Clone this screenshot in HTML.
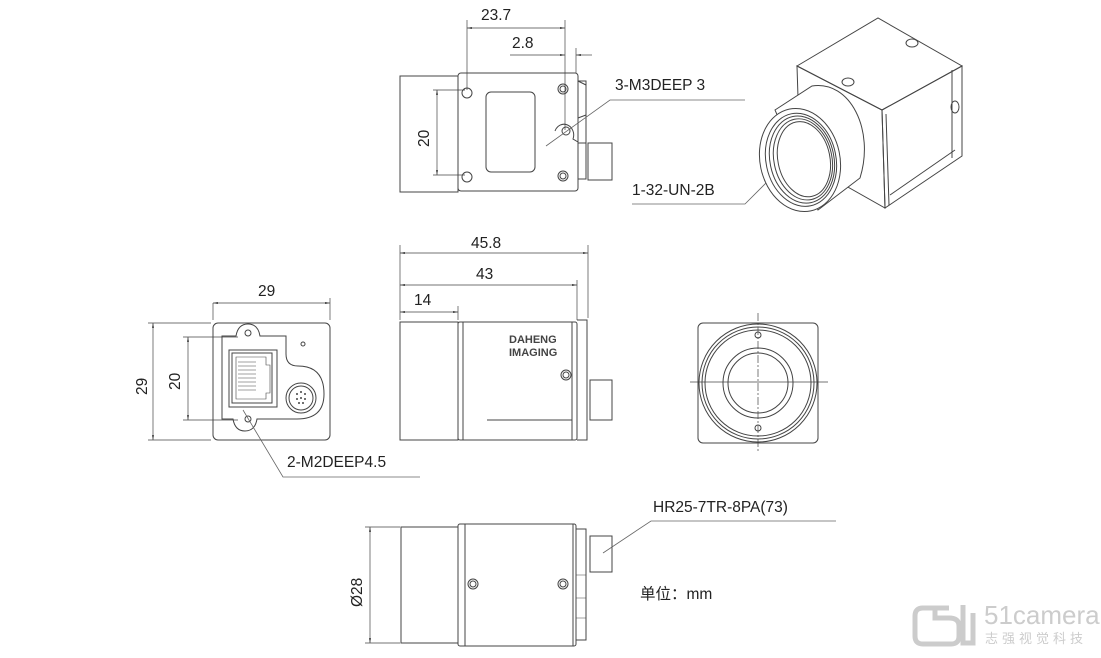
<!DOCTYPE html>
<html><head><meta charset="utf-8"><style>
html,body{margin:0;padding:0;background:#fff;}
svg{display:block;font-family:"Liberation Sans","Noto Sans CJK SC",sans-serif;}
</style></head><body>
<svg width="1101" height="658" viewBox="0 0 1101 658" xmlns="http://www.w3.org/2000/svg">
<defs>
<marker id="a" viewBox="0 0 10 10" refX="10" refY="5" markerWidth="7" markerHeight="7" orient="auto-start-reverse"><path d="M0,3 L10,5 L0,7z" fill="#333"/></marker>
</defs>
<g fill="none" stroke="#444" stroke-width="1">
<!-- TOP VIEW -->
<rect x="400" y="76" width="58" height="116"/>
<rect x="458" y="73" width="120" height="118" rx="3"/>
<rect x="486" y="92" width="49" height="80" rx="5"/>
<circle cx="467" cy="93" r="5"/><circle cx="467" cy="177" r="5"/>
<circle cx="563" cy="89" r="5"/><circle cx="563" cy="89" r="3"/>
<circle cx="563" cy="176" r="5"/><circle cx="563" cy="176" r="3"/>
<path d="M555,131 a9,10 0 1 1 18,8 l5,3"/><circle cx="566" cy="131" r="4"/>
<path d="M578,81 h8 v98 h-8"/>
<path d="M578,81 l8,4 M578,118 l8,-3 M578,143 l8,0"/>
<rect x="588" y="143" width="24" height="37"/>
<line x1="467" y1="20" x2="467" y2="90" stroke-width="0.7"/>
<line x1="565" y1="20" x2="565" y2="130" stroke-width="0.7"/>
<line x1="576" y1="48" x2="576" y2="73" stroke-width="0.7"/>
<line x1="467" y1="28" x2="565" y2="28" marker-start="url(#a)" marker-end="url(#a)" stroke-width="0.7"/>
<line x1="510" y1="55" x2="565" y2="55" marker-end="url(#a)" stroke-width="0.7"/>
<line x1="592" y1="55" x2="576" y2="55" marker-end="url(#a)" stroke-width="0.7"/>
<line x1="433" y1="90" x2="465" y2="90" stroke-width="0.7"/>
<line x1="433" y1="175" x2="465" y2="175" stroke-width="0.7"/>
<line x1="437" y1="90" x2="437" y2="175" marker-start="url(#a)" marker-end="url(#a)" stroke-width="0.7"/>
<polyline points="546,146 610,100 745,100" stroke-width="0.8" stroke="#666"/>
<polyline points="632,204 745,204 777,172" stroke-width="0.8" stroke="#666"/>
<!-- ISO CAMERA -->
<polygon points="797,66 878,18 962,66 882,110" />
<polygon points="882,110 962,66 962,156 885,208" />
<polygon points="797,66 882,110 885,208 800,160" />
<line x1="886" y1="114" x2="889" y2="205"/>
<line x1="952" y1="70" x2="952" y2="158"/>
<line x1="890" y1="195" x2="955" y2="150"/>
<ellipse cx="912" cy="43" rx="6" ry="4"/><ellipse cx="848" cy="82" rx="6" ry="4"/>
<ellipse cx="955" cy="107" rx="4" ry="6"/>
<path d="M775,110 L812,86 C850,80 875,130 860,178 L818,210 Z" fill="#fff"/>
<ellipse cx="800" cy="160" rx="40" ry="52" fill="#fff" transform="rotate(-12 800 160)"/>
<ellipse cx="801" cy="160" rx="35" ry="47" transform="rotate(-12 800 160)"/>
<ellipse cx="802" cy="160" rx="32" ry="44" transform="rotate(-12 800 160)"/>
<ellipse cx="803" cy="160" rx="29" ry="41" transform="rotate(-12 800 160)"/>
<ellipse cx="804" cy="160" rx="26" ry="38" transform="rotate(-12 800 160)"/>
<!-- SIDE VIEW -->
<rect x="400" y="322" width="58" height="118"/>
<rect x="458" y="322" width="119" height="118" rx="2"/>
<line x1="463" y1="322" x2="463" y2="440"/>
<line x1="487" y1="420" x2="572" y2="420"/>
<line x1="572" y1="322" x2="572" y2="440"/>
<path d="M577,320 h10 v120 h-10"/>
<rect x="590" y="380" width="22" height="40"/>
<circle cx="566" cy="375" r="5"/><circle cx="566" cy="375" r="3"/>
<line x1="400" y1="245" x2="400" y2="320" stroke-width="0.7"/>
<line x1="588" y1="245" x2="588" y2="318" stroke-width="0.7"/>
<line x1="577" y1="280" x2="577" y2="320" stroke-width="0.7"/>
<line x1="458" y1="306" x2="458" y2="320" stroke-width="0.7"/>
<line x1="400" y1="253" x2="588" y2="253" marker-start="url(#a)" marker-end="url(#a)" stroke-width="0.7"/>
<line x1="400" y1="285" x2="577" y2="285" marker-start="url(#a)" marker-end="url(#a)" stroke-width="0.7"/>
<line x1="400" y1="312" x2="458" y2="312" marker-start="url(#a)" marker-end="url(#a)" stroke-width="0.7"/>
<!-- BACK VIEW -->
<rect x="213" y="323" width="117" height="117" rx="5"/>
<path d="M222,336 h14 q2,-12 12,-12 q10,0 12,12 h26 v18 q0,12 12,12 q26,0 26,28 q0,25 -27,25 h-40 q-2,12 -12,12 q-10,0 -12,-12 h-11 z"/>
<rect x="229" y="350" width="48" height="57"/>
<rect x="232" y="353" width="40" height="50"/>
<path d="M236,357 h30 v8 h4 v28 h-4 v6 h-30 z" stroke-width="0.6"/>
<path d="M238,362 h18 M238,366 h18 M238,370 h18 M238,374 h18 M238,378 h18 M238,382 h18 M238,386 h18 M238,390 h18" stroke-width="0.5"/>
<circle cx="248" cy="333" r="3"/><circle cx="248" cy="419" r="3"/>
<circle cx="303" cy="344" r="2"/>
<circle cx="301" cy="398" r="15"/><circle cx="301" cy="398" r="12"/>
<g fill="#444" stroke="none"><circle cx="297" cy="394" r="1"/><circle cx="301" cy="392" r="1"/><circle cx="305" cy="394" r="1"/><circle cx="297" cy="399" r="1"/><circle cx="301" cy="398" r="1"/><circle cx="305" cy="399" r="1"/><circle cx="299" cy="403" r="1"/><circle cx="303" cy="403" r="1"/></g>
<line x1="213" y1="303" x2="213" y2="320" stroke-width="0.7"/>
<line x1="330" y1="298" x2="330" y2="320" stroke-width="0.7"/>
<line x1="213" y1="303" x2="330" y2="303" marker-start="url(#a)" marker-end="url(#a)" stroke-width="0.7"/>
<line x1="148" y1="323" x2="211" y2="323" stroke-width="0.7"/>
<line x1="148" y1="440" x2="211" y2="440" stroke-width="0.7"/>
<line x1="153" y1="323" x2="153" y2="440" marker-start="url(#a)" marker-end="url(#a)" stroke-width="0.7"/>
<line x1="183" y1="337" x2="238" y2="337" stroke-width="0.7"/>
<line x1="183" y1="420" x2="238" y2="420" stroke-width="0.7"/>
<line x1="188" y1="337" x2="188" y2="420" marker-start="url(#a)" marker-end="url(#a)" stroke-width="0.7"/>
<polyline points="243,410 283,477 420,477" stroke-width="0.8" stroke="#666"/>
<!-- FRONT VIEW -->
<rect x="698" y="323" width="120" height="120" rx="5"/>
<circle cx="758" cy="383" r="59"/><circle cx="758" cy="383" r="56"/><circle cx="758" cy="383" r="53"/>
<circle cx="758" cy="383" r="35"/><circle cx="758" cy="383" r="30"/>
<circle cx="758" cy="335" r="3"/><circle cx="758" cy="428" r="3"/>
<line x1="758" y1="313" x2="758" y2="452" stroke-dasharray="8,2,2,2" stroke-width="0.7"/>
<line x1="690" y1="382" x2="828" y2="382" stroke-width="0.7"/>
<!-- BOTTOM VIEW -->
<rect x="401" y="527" width="57" height="116"/>
<rect x="458" y="524" width="118" height="122" rx="2"/>
<line x1="465" y1="524" x2="465" y2="646"/>
<line x1="573" y1="524" x2="573" y2="646"/>
<path d="M576,529 h10 v111 h-10"/>
<path d="M576,575 h10 M576,598 h10 M576,618 h10" stroke-width="0.6"/>
<rect x="590" y="536" width="22" height="36"/>
<circle cx="473" cy="584" r="5"/><circle cx="473" cy="584" r="3"/>
<circle cx="563" cy="584" r="5"/><circle cx="563" cy="584" r="3"/>
<line x1="365" y1="527" x2="400" y2="527" stroke-width="0.7"/>
<line x1="365" y1="643" x2="400" y2="643" stroke-width="0.7"/>
<line x1="370" y1="527" x2="370" y2="643" marker-start="url(#a)" marker-end="url(#a)" stroke-width="0.7"/>
<polyline points="603,553 651,521 836,521" stroke-width="0.8" stroke="#666"/>
</g>
<g fill="#222" font-size="15.5">
<text x="481" y="20">23.7</text>
<text x="512" y="48">2.8</text>
<text x="615" y="90">3-M3DEEP 3</text>
<text x="632" y="195">1-32-UN-2B</text>
<text transform="translate(429,147) rotate(-90)">20</text>
<text x="471" y="248">45.8</text>
<text x="476" y="279">43</text>
<text x="414" y="305">14</text>
<text x="258" y="296">29</text>
<text transform="translate(147,395) rotate(-90)">29</text>
<text transform="translate(180,390) rotate(-90)">20</text>
<text x="287" y="467">2-M2DEEP4.5</text>
<text x="653" y="512">HR25-7TR-8PA(73)</text>
<text transform="translate(362,607) rotate(-90)">Ø28</text>
<text x="640" y="599">单位：mm</text>
<text x="509" y="343" font-size="11" font-weight="bold" fill="#444">DAHENG</text>
<text x="509" y="356" font-size="11" font-weight="bold" fill="#444">IMAGING</text>
</g>
<g fill="none" stroke="#ccc" stroke-width="5">
<path d="M935,608 h-12 q-8,0 -8,8 v20 q0,8 8,8 h28 q8,0 8,-8 v-10 q0,-8 -10,-8 h-14 v-10 h14"/>
<path d="M963,605 v38 h10 v-30"/>
</g>
<text x="984" y="624" font-size="26" fill="#ccc" font-family="Liberation Sans, sans-serif">51camera</text>
<text x="985" y="643" font-size="13" fill="#ccc" letter-spacing="4" font-family="Liberation Sans, Noto Sans CJK SC, sans-serif">志强视觉科技</text>
</svg>
</body></html>
